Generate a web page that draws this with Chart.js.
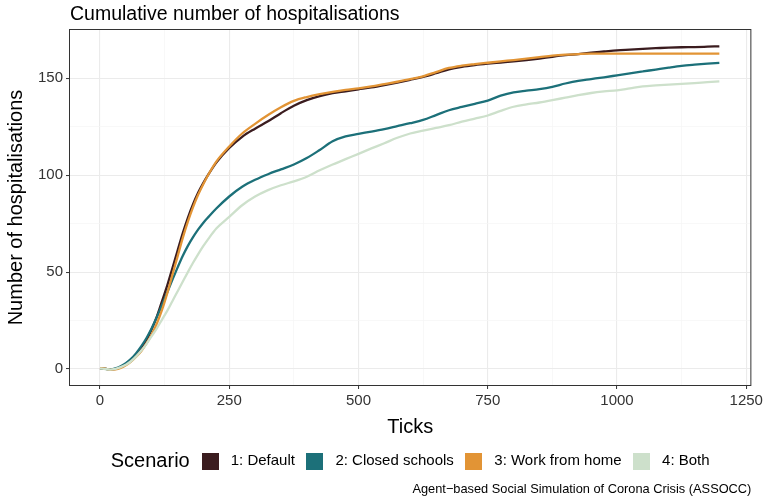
<!DOCTYPE html>
<html>
<head>
<meta charset="utf-8">
<script src="https://cdn.jsdelivr.net/npm/chart.js@4.4.1/dist/chart.umd.min.js"></script>
<style>
  html, body { margin: 0; padding: 0; background: #ffffff; }
  #wrap { width: 766px; height: 498px; }
</style>
</head>
<body>
<div id="wrap"><canvas id="chart" width="766" height="498"></canvas></div>
<script>
// Simulation ticks at which the cumulative counts are sampled
const ticks = [0,10,20,30,40,50,60,70,80,90,100,110,120,130,140,150,160,170,180,190,200,210,
  225,250,275,300,325,350,375,400,425,450,475,500,525,550,575,600,625,650,675,700,725,750,
  775,800,825,850,875,900,925,950,975,1000,1025,1050,1075,1100,1125,1150,1175,1198];

// Cumulative hospitalisations per scenario
const scenarioDefault = [0.5,0.2,-0.3,0.1,1.0,2.5,4.5,7.2,10.5,15,20.5,27,35,43,52,61,70,78,85,91,96,100.5,
  106.5,114,119.8,124,127.8,132,135.8,138.7,140.8,142.3,143.3,144.3,145.3,146.5,147.8,149.2,150.7,152.6,
  154.6,155.9,156.8,157.5,158.1,158.7,159.4,160.2,161.1,161.9,162.5,163.2,163.8,164.4,164.8,165.2,165.5,
  165.8,166.0,166.1,166.3,166.5];

const scenarioClosedSchools = [0.3,0.1,-0.2,0.3,1.4,3.0,5.2,8.2,11.8,16,21,26.8,33,39.5,46,52.3,58.3,63.5,68,72,75.5,78.5,
  82.8,89,94,97.6,100.5,103,105.5,108.8,113,117.5,120,121.3,122.5,123.8,125.3,126.8,128.5,131,
  133.5,135.2,136.8,138.5,141,142.7,143.6,144.4,145.6,147.3,148.7,149.6,150.5,151.5,152.5,153.5,154.5,
  155.5,156.4,157,157.5,157.9];

const scenarioWorkFromHome = [0.5,0.2,-0.4,-0.2,0.6,1.9,3.8,6.3,9.3,13.2,17.8,23.5,30.5,39,48.5,58,67.5,76,83.5,90,95.5,100.5,
  107,114.8,121.5,126.5,131,135,138.3,140.3,141.8,143,144,144.8,145.8,147,148.2,149.5,151,153.2,
  155.3,156.5,157.3,158,158.7,159.4,160.1,160.9,161.7,162.2,162.5,162.7,162.7,162.7,162.7,162.7,162.7,
  162.7,162.7,162.7,162.7,162.7];

const scenarioBoth = [0.3,0,-0.3,0.1,1.0,2.2,4.0,6.5,9.5,13,17,21,25.5,30,35,40,45,50,54.8,59.3,63.5,67.3,
  72.5,78.5,84.5,89,92.3,94.8,96.8,99.2,102.5,105.5,108.3,111,113.8,116.5,119.3,121.5,123,124.4,
  125.8,127.6,129.2,130.8,133.2,135.3,136.5,137.5,138.7,140,141.3,142.4,143.2,143.8,144.8,145.8,146.3,
  146.7,147.1,147.5,148,148.4];

const scenarioLabels = ['1: Default', '2: Closed schools', '3: Work from home', '4: Both'];
const scenarioColors = ['#3b1c1f', '#1c7079', '#e29435', '#cde0cb'];

// Axis breaks (major ones carry labels, the others are minor grid lines)
const xTickLabels = ['0', '250', '500', '750', '1000', '1250'];
const xGridBreaks = [0,125,250,375,500,625,750,875,1000,1125,1250];
const yTickLabels = ['0', '50', '100', '150'];
const yGridBreaks = [0,25,50,75,100,125,150];

const titleText = 'Cumulative number of hospitalisations';
const xTitle = 'Ticks';
const yTitle = 'Number of hospitalisations';
const legendTitle = 'Scenario';
const captionText = 'Agent\u2212based Social Simulation of Corona Crisis (ASSOCC)';

const FONT = '"Liberation Sans", Arial, Helvetica, sans-serif';

const seriesValues = [scenarioDefault, scenarioClosedSchools, scenarioWorkFromHome, scenarioBoth];

const datasets = seriesValues.map((vals, i) => ({
  label: scenarioLabels[i],
  data: ticks.map((t, j) => ({ x: t, y: vals[j] })),
  borderColor: scenarioColors[i],
  backgroundColor: scenarioColors[i],
  borderWidth: 2.3,
  pointRadius: 0,
  pointHoverRadius: 0,
  cubicInterpolationMode: 'monotone',
  fill: false,
  order: seriesValues.length - 1 - i
}));

const isMajor = (labels, v) => labels.includes(String(v));

function gridStyle(labels) {
  return {
    color: ctx => isMajor(labels, ctx.tick.value) ? '#ebebeb' : '#f5f5f5',
    lineWidth: ctx => isMajor(labels, ctx.tick.value) ? 1.1 : 0.7,
    tickColor: ctx => isMajor(labels, ctx.tick.value) ? '#333333' : 'rgba(0,0,0,0)',
    tickWidth: 1,
    tickLength: 4,
    drawTicks: true
  };
}

// Panel border, titles, legend and caption
const decorations = {
  id: 'decorations',
  afterDraw(chart) {
    const { ctx, chartArea: a } = chart;
    ctx.save();

    ctx.strokeStyle = '#333333';
    ctx.lineWidth = 1;
    ctx.strokeRect(a.left - 0.5, a.top - 0.5, a.right - a.left + 1, a.bottom - a.top + 1);

    ctx.fillStyle = '#000000';
    ctx.font = `19.5px ${FONT}`;
    ctx.textAlign = 'left';
    ctx.textBaseline = 'alphabetic';
    ctx.fillText(titleText, a.left, 20);

    ctx.font = `20px ${FONT}`;
    ctx.textAlign = 'center';
    ctx.textBaseline = 'middle';
    ctx.fillText(xTitle, (a.left + a.right) / 2, 427);

    ctx.save();
    ctx.translate(16, (a.top + a.bottom) / 2);
    ctx.rotate(-Math.PI / 2);
    ctx.fillText(yTitle, 0, 0);
    ctx.restore();

    // legend row
    const keySize = 17, gapTitle = 12, gapKey = 12, gapItem = 11.5;
    const legendY = 461;
    ctx.font = `20px ${FONT}`;
    const titleW = ctx.measureText(legendTitle).width;
    ctx.font = `15px ${FONT}`;
    const labelW = scenarioLabels.map(l => ctx.measureText(l).width);
    let total = titleW + gapTitle;
    labelW.forEach((w, i) => { total += keySize + gapKey + w + (i < labelW.length - 1 ? gapItem : 0); });
    let x = (a.left + a.right) / 2 - total / 2;

    ctx.textAlign = 'left';
    ctx.textBaseline = 'middle';
    ctx.font = `20px ${FONT}`;
    ctx.fillStyle = '#000000';
    ctx.fillText(legendTitle, x, legendY);
    x += titleW + gapTitle;

    ctx.font = `15px ${FONT}`;
    scenarioLabels.forEach((label, i) => {
      ctx.fillStyle = scenarioColors[i];
      ctx.fillRect(Math.round(x), Math.round(legendY - keySize / 2), keySize, keySize);
      x += keySize + gapKey;
      ctx.fillStyle = '#000000';
      ctx.fillText(label, x, legendY);
      x += labelW[i] + gapItem;
    });

    ctx.font = `12.8px ${FONT}`;
    ctx.textAlign = 'right';
    ctx.textBaseline = 'alphabetic';
    ctx.fillStyle = '#000000';
    ctx.fillText(captionText, a.right + 1, 493);

    ctx.restore();
  }
};

new Chart(document.getElementById('chart'), {
  type: 'line',
  data: { datasets },
  options: {
    responsive: false,
    devicePixelRatio: 1,
    animation: false,
    events: [],
    layout: { padding: { left: 0, right: 14, top: 30, bottom: 0 } },
    plugins: {
      legend: { display: false },
      title: { display: false },
      tooltip: { enabled: false }
    },
    scales: {
      x: {
        type: 'linear',
        min: -58,
        max: 1258,
        afterBuildTicks: s => { s.ticks = xGridBreaks.map(v => ({ value: v })); },
        afterFit: s => { s.height = 113; },
        border: { display: false },
        grid: gridStyle(xTickLabels),
        ticks: {
          autoSkip: false,
          maxRotation: 0,
          padding: 3,
          color: '#333333',
          font: { family: FONT, size: 15 },
          callback: v => isMajor(xTickLabels, v) ? String(v) : ''
        }
      },
      y: {
        type: 'linear',
        min: -8.25,
        max: 174.9,
        afterBuildTicks: s => { s.ticks = yGridBreaks.map(v => ({ value: v })); },
        afterFit: s => { s.width = 70; },
        border: { display: false },
        grid: gridStyle(yTickLabels),
        ticks: {
          autoSkip: false,
          padding: 3,
          color: '#333333',
          font: { family: FONT, size: 15 },
          callback: v => isMajor(yTickLabels, v) ? String(v) : ''
        }
      }
    }
  },
  plugins: [decorations]
});
</script>
</body>
</html>
